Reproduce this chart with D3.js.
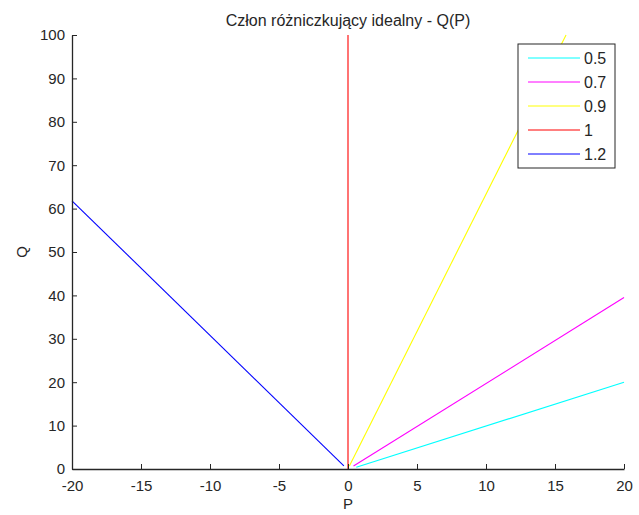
<!DOCTYPE html>
<meta charset="utf-8">
<script src="https://d3js.org/d3.v7.min.js"></script>
<style>
  body { margin: 0; background: #fff; }
  text { font-family: "Liberation Sans", Arial, sans-serif; fill: #262626; }
</style>
<div id="chart"></div>
<script>

// data
var series = ["0.5", "0.7", "0.9", "1", "1.2"];
var colors = ["#00ffff", "#ff00ff", "#ffff00", "#ff0000", "#0000ff"];
var p05 = [[0.6, 0.4], [20, 20]];
var p07 = [[0.4, 0.7], [20, 39.5]];
var p09 = [[0.1, 0.7], [15.8, 100]];
var p1  = [[0, 0], [0, 100]];
var p12 = [[-20, 61.8], [-0.3, 0.7]];
var lines = [p05, p07, p09, p1, p12];
var xTicks = [-20, -15, -10, -5, 0, 5, 10, 15, 20];
var yTicks = [0, 10, 20, 30, 40, 50, 60, 70, 80, 90, 100];

var W = 639, H = 515;
var margin = {top: 35, right: 15, bottom: 46, left: 72},
    width = W - margin.left - margin.right,
    height = H - margin.top - margin.bottom;

var svg = d3.select("#chart")
  .append("svg")
    .attr("width", W)
    .attr("height", H);

var g = svg.append("g")
    .attr("transform", "translate(" + margin.left + "," + margin.top + ")");

var x = d3.scaleLinear().domain([-20, 20]).range([0, width]);
var y = d3.scaleLinear().domain([0, 100]).range([height, 0]);

// lines
var line = d3.line()
    .x(function(d) { return x(d[0]); })
    .y(function(d) { return y(d[1]); });

g.selectAll(".series")
    .data(lines)
    .enter()
    .append("path")
      .attr("d", line)
      .attr("fill", "none")
      .attr("stroke", function(d, i) { return colors[i]; })
      .attr("stroke-width", 1.1);

// axes (ticks pointing inward like matlab), plain hyphen for minus
var fmt = function(d) { return String(d); };
var xAxis = g.append("g")
    .attr("transform", "translate(0," + height + ")")
    .call(d3.axisBottom(x).tickValues(xTicks).tickFormat(fmt).tickSizeInner(-5).tickSizeOuter(0).tickPadding(11));
var yAxis = g.append("g")
    .call(d3.axisLeft(y).tickValues(yTicks).tickFormat(fmt).tickSizeInner(-5).tickSizeOuter(0).tickPadding(7));

[xAxis, yAxis].forEach(function(a) {
  a.select(".domain").attr("stroke", "#262626").attr("stroke-width", 1.3);
  a.selectAll(".tick line").attr("stroke", "#262626");
  a.selectAll(".tick text")
    .style("font-family", "'Liberation Sans', Arial, sans-serif")
    .style("font-size", "15px")
    .attr("fill", "#262626");
});

// title and labels
svg.append("text")
    .attr("x", margin.left + width / 2)
    .attr("y", 26)
    .attr("text-anchor", "middle")
    .style("font-size", "16px")
    .text("Człon różniczkujący idealny - Q(P)");

svg.append("text")
    .attr("x", margin.left + width / 2)
    .attr("y", 509)
    .attr("text-anchor", "middle")
    .style("font-size", "15px")
    .text("P");

svg.append("text")
    .attr("transform", "translate(27," + (margin.top + height / 2) + ") rotate(-90)")
    .attr("text-anchor", "middle")
    .style("font-size", "15px")
    .text("Q");

// legend
var legend = svg.append("g").attr("transform", "translate(518,44)");
legend.append("rect")
    .attr("width", 97)
    .attr("height", 124)
    .attr("fill", "#fff")
    .attr("stroke", "#262626")
    .attr("stroke-width", 1);

series.forEach(function(s, i) {
  var yy = 14 + i * 24;
  legend.append("line")
      .attr("x1", 10).attr("x2", 62)
      .attr("y1", yy).attr("y2", yy)
      .attr("stroke", colors[i]);
  legend.append("text")
      .attr("x", 66).attr("y", yy)
      .attr("dominant-baseline", "central")
      .style("font-size", "16px")
      .text(s);
});
</script>
